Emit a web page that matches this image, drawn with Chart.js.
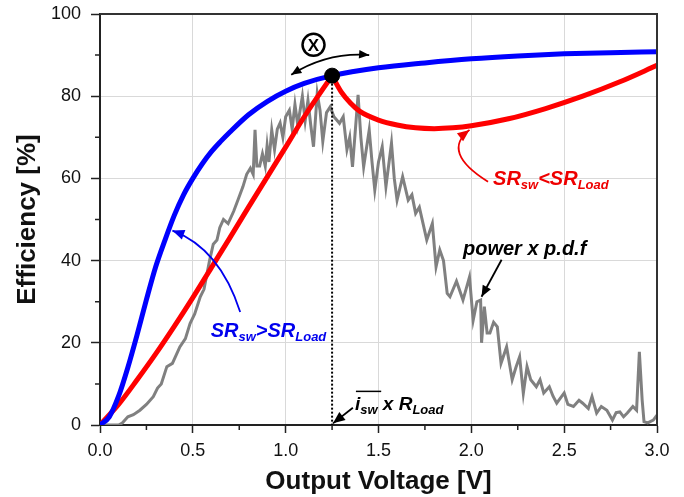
<!DOCTYPE html>
<html>
<head>
<meta charset="utf-8">
<script src="https://cdn.jsdelivr.net/npm/chart.js@4"></script>
<style>
html, body { margin: 0; padding: 0; background: #fff; }
</style>
</head>
<body>
<canvas id="effChart" width="684" height="497"></canvas>
<script>
// efficiency curves
const blueV = [0, 0.05, 0.1, 0.15, 0.2, 0.25, 0.3, 0.35, 0.4, 0.45, 0.5, 0.55, 0.6, 0.65, 0.7, 0.8, 0.9, 1.0, 1.1, 1.25, 1.5, 1.75, 2.0, 2.25, 2.5, 2.75, 3.0];
const blueE = [0, 2, 7, 14, 22, 30.5, 38.5, 45, 51, 56, 60, 63.5, 66.5, 69, 71.3, 75.5, 78.7, 81.2, 83.1, 85, 86.9, 88.1, 89.1, 89.8, 90.3, 90.6, 90.8];

const redLeftV = [0, 0.1, 0.2, 0.3, 0.4, 0.5, 0.6, 0.7, 0.8, 0.9, 1.0, 1.1, 1.25];
const redLeftE = [0, 5, 11, 17.3, 24, 31, 38.3, 45.6, 53, 60.3, 67.6, 75, 85];
const redRightV = [1.25, 1.3, 1.35, 1.4, 1.5, 1.6, 1.7, 1.8, 1.9, 2.0, 2.2, 2.4, 2.6, 2.8, 3.0];
const redRightE = [85, 81, 78.3, 76.3, 74.2, 73, 72.3, 72.1, 72.3, 72.8, 74.5, 77, 80, 83.5, 87.5];

// power x p.d.f (noisy grey trace)
const pdfV = [0, 0.1, 0.12, 0.15, 0.18, 0.215, 0.25, 0.287, 0.31, 0.33, 0.36, 0.39, 0.43, 0.46, 0.485, 0.51, 0.54, 0.56, 0.59, 0.61, 0.63, 0.645, 0.665, 0.69, 0.72, 0.745, 0.77, 0.79, 0.81, 0.825, 0.835, 0.845, 0.86, 0.875, 0.89, 0.9, 0.91, 0.925, 0.94, 0.955, 0.97, 0.985, 1.0, 1.02, 1.035, 1.05, 1.065, 1.09, 1.105, 1.12, 1.135, 1.15, 1.17, 1.185, 1.2, 1.22, 1.24, 1.26, 1.29, 1.31, 1.33, 1.345, 1.36, 1.39, 1.405, 1.42, 1.45, 1.465, 1.48, 1.5, 1.52, 1.54, 1.57, 1.585, 1.6, 1.63, 1.66, 1.68, 1.7, 1.72, 1.74, 1.76, 1.79, 1.81, 1.83, 1.85, 1.87, 1.885, 1.92, 1.955, 1.99, 2.01, 2.03, 2.05, 2.055, 2.07, 2.085, 2.1, 2.12, 2.14, 2.16, 2.19, 2.22, 2.24, 2.26, 2.28, 2.3, 2.32, 2.35, 2.37, 2.39, 2.42, 2.44, 2.46, 2.5, 2.52, 2.55, 2.58, 2.6, 2.63, 2.65, 2.675, 2.7, 2.73, 2.76, 2.78, 2.8, 2.82, 2.84, 2.87, 2.89, 2.905, 2.92, 2.93, 2.95, 2.98, 3.0];
const pdfE = [0, 0, 0.5, 2, 2.5, 3.6, 5, 6.9, 9, 10, 14.2, 15, 19, 21, 24.7, 27, 31.2, 33, 40, 44, 45, 48, 50, 49, 52, 55, 58, 61, 62.5, 61, 71.8, 63, 63, 66, 63, 68, 64, 71.8, 67, 72, 73.5, 70, 75, 76.6, 72, 78, 73, 80, 74, 79, 73, 67.7, 80.7, 76.6, 69, 76, 77.4, 75, 73.4, 75, 67, 70, 62.8, 80.3, 70, 62.8, 71.8, 64, 57.2, 64, 67.7, 58, 68.6, 60, 54.7, 60.4, 54.7, 56, 51.5, 53, 49, 45, 49, 38.5, 42.6, 40, 32, 31.2, 35, 30.4, 36, 25.5, 30, 30.4, 20, 28.8, 22.4, 22.4, 25, 23.9, 15, 19, 11, 14, 16.6, 7.7, 14.2, 11, 9.3, 11, 7.8, 9.3, 7, 5.3, 7.8, 5, 4.5, 6, 5.3, 4, 6.9, 2.9, 4.5, 3.6, 1.2, 3, 3.2, 2, 2.9, 4.5, 3.6, 17.8, 6.1, 0.8, 0.5, 1.2, 2.4];

// operating point
const opV = 1.25;
const opE = 85;

const xTicks = [0, 0.5, 1.0, 1.5, 2.0, 2.5, 3.0];
const yTicks = [0, 20, 40, 60, 80, 100];

const toPts = (xs, ys) => xs.map((x, i) => ({ x: x, y: ys[i] }));

const FONT = "'Liberation Sans', Arial, sans-serif";

function arrowHead(ctx, x, y, dx, dy, size) {
  const a = Math.atan2(dy, dx);
  ctx.beginPath();
  ctx.moveTo(x, y);
  ctx.lineTo(x - size * Math.cos(a - 0.4), y - size * Math.sin(a - 0.4));
  ctx.lineTo(x - size * Math.cos(a + 0.4), y - size * Math.sin(a + 0.4));
  ctx.closePath();
  ctx.fill();
}

// draws text pieces with subscripts
function richText(ctx, x, y, parts, size, color, subScale) {
  ctx.fillStyle = color;
  ctx.textBaseline = "alphabetic";
  ctx.textAlign = "left";
  let cx = x;
  parts.forEach((p) => {
    const fs = p.sub ? Math.round(size * (subScale || 0.65)) : size;
    ctx.font = "italic bold " + fs + "px " + FONT;
    const yy = p.sub ? y + size * 0.22 : y;
    ctx.fillText(p.t, cx, yy);
    const w = ctx.measureText(p.t).width;
    if (p.over) {
      ctx.strokeStyle = color;
      ctx.lineWidth = 1.5;
      ctx.beginPath();
      ctx.moveTo(cx + 1, y - size * 0.98);
      ctx.lineTo(cx + w + p.overExtra, y - size * 0.98);
      ctx.stroke();
    }
    cx += w;
  });
}

const decorPlugin = {
  id: "decor",
  afterDatasetsDraw(chart) {
    const { ctx, chartArea: a, scales: { x, y } } = chart;
    const px = (v) => x.getPixelForValue(v);
    const py = (v) => y.getPixelForValue(v);
    ctx.save();

    // frame on top and right
    ctx.strokeStyle = "#333";
    ctx.lineWidth = 2;
    ctx.beginPath();
    ctx.moveTo(a.left, a.top);
    ctx.lineTo(a.right, a.top);
    ctx.lineTo(a.right, a.bottom);
    ctx.stroke();

    // minor ticks
    ctx.strokeStyle = "#222";
    ctx.lineWidth = 1.5;
    ctx.beginPath();
    for (let v = 0.25; v < 3; v += 0.5) {
      ctx.moveTo(px(v), a.bottom);
      ctx.lineTo(px(v), a.bottom + 5);
    }
    for (let v = 10; v < 100; v += 20) {
      ctx.moveTo(a.left, py(v));
      ctx.lineTo(a.left - 5, py(v));
    }
    ctx.stroke();

    // circled X above the operating point
    const cxX = px(1.15), cyX = py(92.5);
    ctx.strokeStyle = "#000";
    ctx.lineWidth = 2.5;
    ctx.beginPath();
    ctx.arc(cxX, cyX, 11, 0, Math.PI * 2);
    ctx.stroke();
    ctx.fillStyle = "#000";
    ctx.font = "bold 17px " + FONT;
    ctx.textAlign = "center";
    ctx.textBaseline = "middle";
    ctx.fillText("X", cxX, cyX + 1);

    // double-headed arrow
    const x1 = px(1.03), y1 = py(85.2), x2 = px(1.45), y2 = py(90);
    const qx = (x1 + x2) / 2 - 3, qy = (y1 + y2) / 2 - 13;
    ctx.lineWidth = 1.8;
    ctx.beginPath();
    ctx.moveTo(x1, y1);
    ctx.quadraticCurveTo(qx, qy, x2, y2);
    ctx.stroke();
    arrowHead(ctx, x1, y1, x1 - qx, y1 - qy, 11);
    arrowHead(ctx, x2, y2, x2 - qx, y2 - qy, 11);

    // blue annotation
    ctx.strokeStyle = "#0000ee";
    ctx.fillStyle = "#0000ee";
    ctx.lineWidth = 1.8;
    let sx = px(0.755), sy = py(27.5), ex = px(0.39), ey = py(47.3);
    let kx = px(0.645), ky = py(43);
    ctx.beginPath();
    ctx.moveTo(sx, sy);
    ctx.quadraticCurveTo(kx, ky, ex, ey);
    ctx.stroke();
    arrowHead(ctx, ex, ey, ex - kx, ey - ky, 13);
    richText(ctx, px(0.596), py(21.4), [
      { t: "SR" }, { t: "sw", sub: true }, { t: ">SR" }, { t: "Load", sub: true }
    ], 20, "#0000ee");

    // red annotation
    ctx.strokeStyle = "#ee0000";
    ctx.fillStyle = "#ee0000";
    sx = px(2.09); sy = py(59.2); ex = px(1.99); ey = py(71.8);
    kx = px(1.835); ky = py(66.4);
    ctx.beginPath();
    ctx.moveTo(sx, sy);
    ctx.quadraticCurveTo(kx, ky, ex, ey);
    ctx.stroke();
    arrowHead(ctx, ex, ey, ex - kx, ey - ky, 13);
    richText(ctx, px(2.117), py(58.4), [
      { t: "SR" }, { t: "sw", sub: true }, { t: "<SR" }, { t: "Load", sub: true }
    ], 20, "#ee0000");

    // power x p.d.f label
    ctx.strokeStyle = "#000";
    ctx.fillStyle = "#000";
    ctx.lineWidth = 1.8;
    sx = px(2.163); sy = py(40.2); ex = px(2.055); ey = py(31.2);
    ctx.beginPath();
    ctx.moveTo(sx, sy);
    ctx.lineTo(ex, ey);
    ctx.stroke();
    arrowHead(ctx, ex, ey, ex - sx, ey - sy, 12);
    richText(ctx, px(1.955), py(41.4), [{ t: "power x p.d.f" }], 20, "#000");

    // i_sw x R_Load label
    sx = px(1.362); sy = py(4.2); ex = px(1.255); ey = py(0.4);
    ctx.beginPath();
    ctx.moveTo(sx, sy);
    ctx.lineTo(ex, ey);
    ctx.stroke();
    arrowHead(ctx, ex, ey, ex - sx, ey - sy, 13);
    richText(ctx, px(1.373), py(3.65), [
      { t: "i", over: true, overExtra: 21 }, { t: "sw", sub: true }, { t: " x R" }, { t: "Load", sub: true }
    ], 19, "#000", 0.7);

    ctx.restore();
  }
};

const ctx = document.getElementById("effChart").getContext("2d");
const chart = new Chart(ctx, {
  type: "line",
  data: {
    datasets: [
      {
        label: "operating point",
        data: [{ x: opV, y: opE }],
        showLine: false,
        pointRadius: 7.5,
        pointBackgroundColor: "#000",
        pointBorderColor: "#000",
      },
      {
        label: "ref",
        data: [{ x: opV, y: opE }, { x: opV, y: 0 }],
        borderColor: "#000",
        borderWidth: 2,
        borderDash: [2, 2],
        pointRadius: 0,
      },
      {
        label: "SRsw>SRLoad",
        data: toPts(blueV, blueE),
        borderColor: "#0000ff",
        borderWidth: 5,
        pointRadius: 0,
        cubicInterpolationMode: "monotone",
      },
      {
        label: "SRsw<SRLoad",
        data: toPts(redLeftV, redLeftE),
        borderColor: "#ff0000",
        borderWidth: 5,
        pointRadius: 0,
        cubicInterpolationMode: "monotone",
      },
      {
        label: "SRsw<SRLoad right",
        data: toPts(redRightV, redRightE),
        borderColor: "#ff0000",
        borderWidth: 5,
        pointRadius: 0,
        cubicInterpolationMode: "monotone",
      },
      {
        label: "power x p.d.f",
        data: toPts(pdfV, pdfE),
        borderColor: "#808080",
        borderWidth: 3,
        pointRadius: 0,
        tension: 0,
      },
    ],
  },
  options: {
    responsive: false,
    animation: false,
    devicePixelRatio: 1,
    layout: { padding: { top: 14, right: 27, left: 0, bottom: 0 } },
    plugins: { legend: { display: false }, tooltip: { enabled: false } },
    scales: {
      x: {
        type: "linear",
        min: 0,
        max: 3,
        afterBuildTicks: (s) => { s.ticks = xTicks.map((v) => ({ value: v })); },
        afterFit: (s) => { s.height = 72; s.paddingLeft = 0; s.paddingRight = 0; },
        ticks: {
          callback: (v) => v.toFixed(1),
          font: { family: FONT, size: 18 },
          color: "#111",
          padding: 7,
          maxRotation: 0,
        },
        grid: { color: "#d9d9d9", lineWidth: 1, tickColor: "#222", tickLength: 8, tickWidth: 1.5 },
        border: { color: "#222", width: 2 },
        title: {
          display: true,
          text: "Output Voltage [V]",
          font: { family: FONT, size: 26, weight: "bold" },
          color: "#111",
          padding: { top: 2, bottom: 0 },
        },
      },
      y: {
        min: 0,
        max: 100,
        afterBuildTicks: (s) => { s.ticks = yTicks.map((v) => ({ value: v })); },
        afterFit: (s) => { s.width = 100; s.paddingTop = 0; s.paddingBottom = 0; },
        ticks: {
          font: { family: FONT, size: 18 },
          color: "#111",
          padding: 10,
        },
        grid: { color: "#d9d9d9", lineWidth: 1, tickColor: "#222", tickLength: 9, tickWidth: 1.5 },
        border: { color: "#222", width: 2 },
        title: {
          display: true,
          text: "Efficiency [%]",
          font: { family: FONT, size: 26, weight: "bold" },
          color: "#111",
          padding: { top: 12, bottom: 0 },
        },
      },
    },
  },
  plugins: [decorPlugin],
});
</script>
</body>
</html>
